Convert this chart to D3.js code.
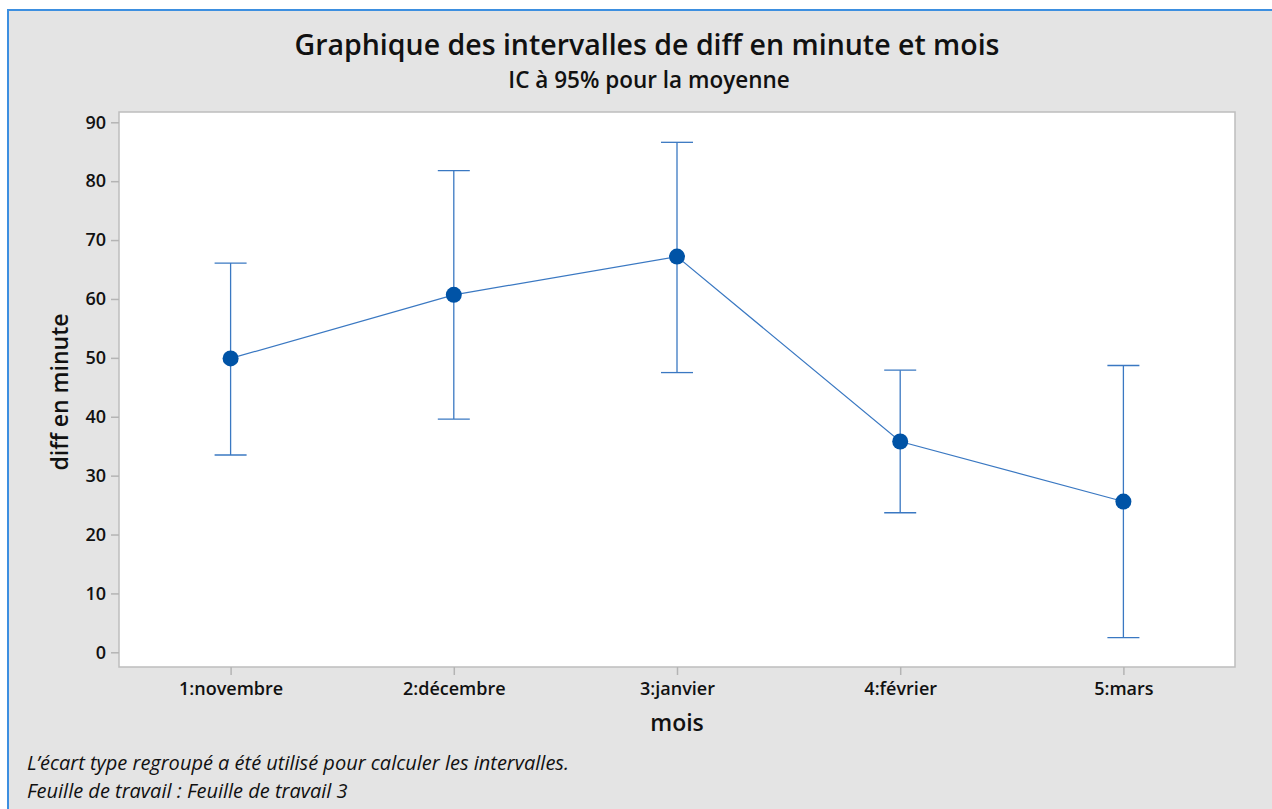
<!DOCTYPE html>
<html>
<head>
<meta charset="utf-8">
<script src="https://d3js.org/d3.v7.min.js"></script>
<style>
  body { margin: 0; background: #fff; }
  svg text { font-family: "Open Sans", "Noto Sans", sans-serif; fill: #111; }
</style>
</head>
<body>
<script>
// data
const months = ["1:novembre", "2:décembre", "3:janvier", "4:février", "5:mars"];
const means = [49.9, 60.7, 67.2, 35.8, 25.6];
const upper = [66.1, 81.8, 86.6, 47.9, 48.7];
const lower = [33.5, 39.6, 47.5, 23.7, 2.5];
const yTicks = [0, 10, 20, 30, 40, 50, 60, 70, 80, 90];

const W = 1272, H = 809;
const svg = d3.select("body").append("svg")
    .attr("width", W)
    .attr("height", H);

// grey figure background with blue frame
svg.append("rect")
    .attr("x", 8).attr("y", 10)
    .attr("width", W + 10).attr("height", H + 10)
    .attr("fill", "#e4e4e4")
    .attr("stroke", "#3d8fe0")
    .attr("stroke-width", 2);

const plot = { left: 119, top: 112, right: 1235, bottom: 667 };

// plot area
svg.append("rect")
    .attr("x", plot.left).attr("y", plot.top)
    .attr("width", plot.right - plot.left)
    .attr("height", plot.bottom - plot.top)
    .attr("fill", "#fff")
    .attr("stroke", "#bdbdbd")
    .attr("stroke-width", 1.5);

// scales
const xScale = d3.scaleLinear()
    .domain([0.5, months.length + 0.5])
    .range([plot.left, plot.right]);

const yScale = d3.scaleLinear()
    .domain([0, 90])
    .range([652.3, 122.3]);

// axes
const yAxis = svg.append("g")
    .attr("transform", `translate(${plot.left},0)`)
    .call(d3.axisLeft(yScale).tickValues(yTicks).tickSize(8).tickPadding(5));

const xAxis = svg.append("g")
    .attr("transform", `translate(0,${plot.bottom})`)
    .call(d3.axisBottom(xScale)
        .tickValues(d3.range(1, months.length + 1))
        .tickFormat(d => months[d - 1])
        .tickSize(8).tickPadding(7));

[yAxis, xAxis].forEach(ax => {
    ax.select(".domain").remove();
    ax.selectAll(".tick line").attr("stroke", "#b4b4b4").attr("stroke-width", 1.5);
    ax.selectAll(".tick text")
        .attr("fill", "#111")
        .style("font-size", "18px")
        .style("font-weight", 600);
});

// error bars
const bars = svg.append("g");
const capHalf = 16;
months.forEach((m, i) => {
    const x = xScale(i + 1);
    bars.append("line")
        .attr("x1", x).attr("x2", x)
        .attr("y1", yScale(upper[i])).attr("y2", yScale(lower[i]))
        .attr("stroke", "#3a78c2").attr("stroke-width", 1.3);
    [upper[i], lower[i]].forEach(v => {
        bars.append("line")
            .attr("x1", x - capHalf).attr("x2", x + capHalf)
            .attr("y1", yScale(v)).attr("y2", yScale(v))
            .attr("stroke", "#3a78c2").attr("stroke-width", 1.3);
    });
});

// connecting line
const line = d3.line()
    .x((d, i) => xScale(i + 1))
    .y(d => yScale(d));

svg.append("path")
    .datum(means)
    .attr("fill", "none")
    .attr("stroke", "#3a78c2")
    .attr("stroke-width", 1.2)
    .attr("d", line);

// mean points
svg.append("g").selectAll("circle")
    .data(means)
    .join("circle")
    .attr("cx", (d, i) => xScale(i + 1))
    .attr("cy", d => yScale(d))
    .attr("r", 8)
    .attr("fill", "#0053a6");

// titles
svg.append("text")
    .attr("x", 647).attr("y", 55)
    .attr("text-anchor", "middle")
    .style("font-size", "28.5px")
    .style("font-weight", 600)
    .text("Graphique des intervalles de diff en minute et mois");

svg.append("text")
    .attr("x", 649).attr("y", 88)
    .attr("text-anchor", "middle")
    .style("font-size", "22.5px")
    .style("font-weight", 600)
    .text("IC à 95% pour la moyenne");

svg.append("text")
    .attr("x", 677).attr("y", 731)
    .attr("text-anchor", "middle")
    .style("font-size", "23px")
    .style("font-weight", 600)
    .text("mois");

svg.append("text")
    .attr("transform", "translate(68,392) rotate(-90)")
    .attr("text-anchor", "middle")
    .style("font-size", "23px")
    .style("font-weight", 600)
    .text("diff en minute");

// footnotes
const notes = ["L’écart type regroupé a été utilisé pour calculer les intervalles.",
    "Feuille de travail : Feuille de travail 3"];
svg.append("g").selectAll("text")
    .data(notes)
    .join("text")
    .attr("x", 27)
    .attr("y", (d, i) => 770 + i * 27.5)
    .style("font-size", "20px")
    .style("font-style", "italic")
    .text(d => d);
</script>
</body>
</html>
